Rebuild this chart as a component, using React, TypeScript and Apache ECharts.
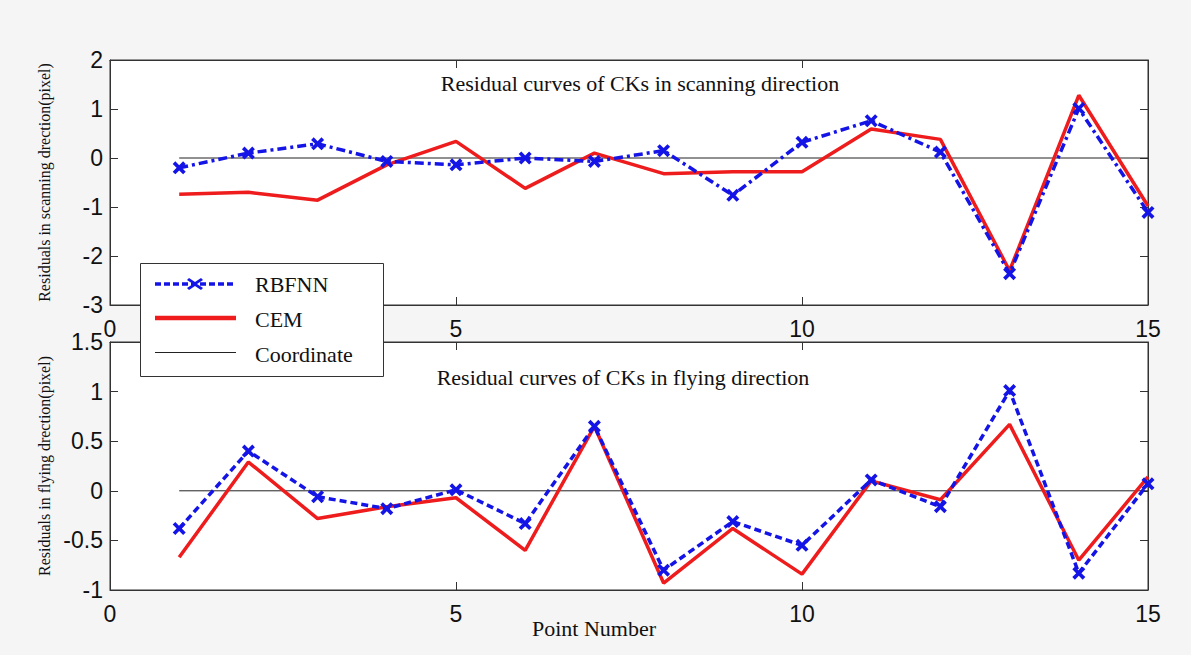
import React, { useEffect, useRef } from "react";
import * as echarts from "echarts";

const pointNumbers = [1, 2, 3, 4, 5, 6, 7, 8, 9, 10, 11, 12, 13, 14, 15];
const scanRBFNN = [-0.2, 0.1, 0.29, -0.07, -0.14, 0.0, -0.07, 0.15, -0.76, 0.32, 0.76, 0.12, -2.36, 1.01, -1.11];
const scanCEM = [-0.74, -0.7, -0.86, -0.14, 0.34, -0.62, 0.1, -0.32, -0.28, -0.28, 0.59, 0.38, -2.3, 1.28, -0.98];
const flyRBFNN = [-0.38, 0.4, -0.06, -0.18, 0.01, -0.33, 0.65, -0.8, -0.31, -0.55, 0.11, -0.16, 1.01, -0.83, 0.07];
const flyCEM = [-0.67, 0.29, -0.28, -0.16, -0.07, -0.6, 0.65, -0.93, -0.38, -0.84, 0.1, -0.09, 0.67, -0.7, 0.14];
const coordinateX = [1, 15];
const legendNames = ["RBFNN", "CEM", "Coordinate"];
const xTicks = { min: 0, max: 15, interval: 5 };
const scanY = { min: -3, max: 2, interval: 1 };
const flyY = { min: -1, max: 1.5, interval: 0.5 };

const SERIF = "'Liberation Serif', 'Times New Roman', serif";
const SANS = "'Liberation Sans', Arial, sans-serif";
const X_SYMBOL = "path://M2,0 L5,3 L8,0 L10,2 L7,5 L10,8 L8,10 L5,7 L2,10 L0,8 L3,5 L0,2 Z";
const BLUE = "#1414e6";
const RED = "#ee1c1c";
const BLACK = "#222";

const pairs = (ys: number[]) => pointNumbers.map((x, i) => [x, ys[i]]);

export default function App() {
  const ref = useRef<HTMLDivElement>(null);
  useEffect(() => {
    if (!ref.current) return;
    const chart = echarts.init(ref.current, undefined, { renderer: "svg" });
    const axisLine = { show: true, onZero: false, lineStyle: { color: "#333", width: 1 } };
    const tick = { show: true, inside: true, length: 8, lineStyle: { color: "#333" } };
    const xLabel = { fontFamily: SANS, fontSize: 23, color: "#111", margin: 12 };
    const yLabel = { fontFamily: SANS, fontSize: 23, color: "#111", margin: 7 };
    const xBottom = (g: number) => ({
      gridIndex: g, type: "value", ...xTicks, position: "bottom",
      axisLine, axisTick: tick, splitLine: { show: false }, axisLabel: xLabel,
    });
    const xTop = (g: number) => ({
      gridIndex: g, type: "value", ...xTicks, position: "top",
      axisLine, axisTick: tick, splitLine: { show: false }, axisLabel: { show: false },
    });
    const yLeft = (g: number, r: any, name: string) => ({
      gridIndex: g, type: "value", ...r, position: "left",
      axisLine, axisTick: tick, splitLine: { show: false },
      axisLabel: { ...yLabel, formatter: (v: number) => String(v) },
      name, nameLocation: "middle", nameRotate: 90, nameGap: 58,
      nameTextStyle: { fontFamily: SERIF, fontSize: 16, color: "#111" },
    });
    const yRight = (g: number, r: any) => ({
      gridIndex: g, type: "value", ...r, position: "right",
      axisLine, axisTick: tick, splitLine: { show: false }, axisLabel: { show: false },
    });
    const rbf = (g: number, ys: number[], dash: number[]) => ({
      name: legendNames[0], type: "line", xAxisIndex: g * 2, yAxisIndex: g * 2,
      data: pairs(ys), symbol: X_SYMBOL, symbolSize: 13, z: 4,
      lineStyle: { color: BLUE, width: 3.5, type: dash },
      itemStyle: { color: BLUE },
    });
    const cem = (g: number, ys: number[]) => ({
      name: legendNames[1], type: "line", xAxisIndex: g * 2, yAxisIndex: g * 2,
      data: pairs(ys), symbol: "none", z: 3,
      lineStyle: { color: RED, width: 3.5 }, itemStyle: { color: RED },
    });
    const coord = (g: number) => ({
      name: legendNames[2], type: "line", xAxisIndex: g * 2, yAxisIndex: g * 2,
      data: coordinateX.map((x) => [x, 0]), symbol: "none", z: 2,
      lineStyle: { color: BLACK, width: 1 }, itemStyle: { color: BLACK },
    });
    const textStyle = { fontFamily: SERIF, fontSize: 22, fill: "#111", align: "center", verticalAlign: "middle" };
    const legendText = (t: string, y: number) => ({
      type: "text", x: 255, y, z: 101,
      style: { text: t, fontFamily: SERIF, fontSize: 22, fill: "#111", align: "left", verticalAlign: "middle" },
    });
    chart.setOption({
      animation: false,
      backgroundColor: "#f5f5f5",
      grid: [
        { left: 110, top: 60, width: 1038, height: 245, show: true, backgroundColor: "#fff", borderColor: "#333", borderWidth: 1 },
        { left: 110, top: 342, width: 1038, height: 248, show: true, backgroundColor: "#fff", borderColor: "#333", borderWidth: 1 },
      ],
      xAxis: [xBottom(0), xTop(0), xBottom(1), xTop(1)],
      yAxis: [
        yLeft(0, scanY, "Residuals in scanning drection(pixel)"),
        yRight(0, scanY),
        yLeft(1, flyY, "Residuals in flying drection(pixel)"),
        yRight(1, flyY),
      ],
      graphic: [
        { type: "text", x: 640, y: 83, style: { text: "Residual curves of CKs in scanning direction", ...textStyle } },
        { type: "text", x: 623, y: 377, style: { text: "Residual curves of CKs in flying direction", ...textStyle } },
        { type: "text", x: 594, y: 628, style: { text: "Point Number", ...textStyle } },
        {
          type: "rect", z: 100, shape: { x: 140.5, y: 263.5, width: 243, height: 113 },
          style: { fill: "#fff", stroke: "#333", lineWidth: 1 },
        },
        {
          type: "line", z: 101, shape: { x1: 155, y1: 284, x2: 236, y2: 284 },
          style: { stroke: BLUE, lineWidth: 3.5, lineDash: [6, 3] },
        },
        {
          type: "polygon", z: 102,
          shape: { points: [[189, 278], [195, 282], [201, 278], [203, 280], [197, 284], [203, 288], [201, 290], [195, 286], [189, 290], [187, 288], [193, 284], [187, 280]] },
          style: { fill: BLUE },
        },
        {
          type: "line", z: 101, shape: { x1: 155, y1: 318, x2: 236, y2: 318 },
          style: { stroke: RED, lineWidth: 4.5 },
        },
        {
          type: "line", z: 101, shape: { x1: 155, y1: 352.5, x2: 236, y2: 352.5 },
          style: { stroke: BLACK, lineWidth: 1 },
        },
        legendText(legendNames[0], 284),
        legendText(legendNames[1], 319),
        legendText(legendNames[2], 354),
      ],
      series: [
        coord(0), cem(0, scanCEM), rbf(0, scanRBFNN, [9, 4, 3, 4]),
        coord(1), cem(1, flyCEM), rbf(1, flyRBFNN, [7, 4]),
      ],
    });
    return () => chart.dispose();
  }, []);
  return <div ref={ref} style={{ position: "fixed", left: 0, top: 0, width: 1191, height: 655 }} />;
}
